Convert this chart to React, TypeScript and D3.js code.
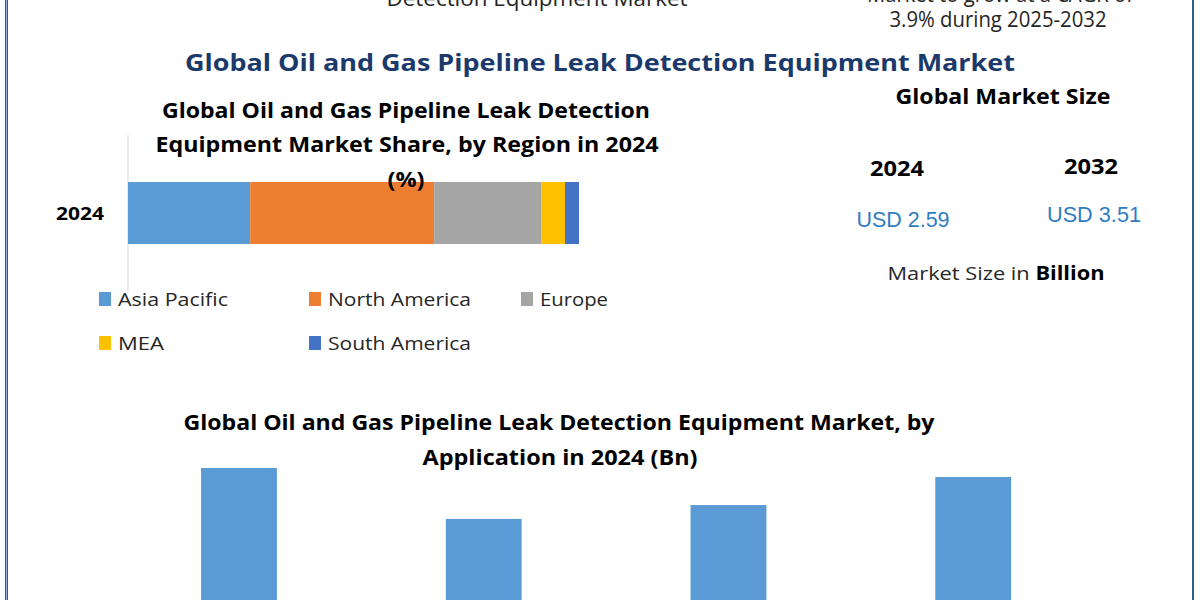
import React from "react";
import * as d3 from "d3";

// ---------- data ----------
const regions = ["Asia Pacific", "North America", "Europe", "MEA", "South America"];
const regionShares = [27.1, 40.8, 23.7, 5.3, 3.1];
const regionColors = ["#5B9BD5", "#ED7D31", "#A5A5A5", "#FFC000", "#4472C4"];
const shareYears = ["2024"];

const applications = ["Application A", "Application B", "Application C", "Application D"];
const applicationValues = [0.747, 0.538, 0.595, 0.71];

const marketYears = ["2024", "2032"];
const marketValues = [2.59, 3.51];
const cagrText = "3.9% during 2025-2032";

const FONT = "'Open Sans', 'DejaVu Sans', sans-serif";

type TProps = {
  x: number;
  y: number;
  size: number;
  w?: number;
  bold?: boolean;
  fill?: string;
  anchor?: "start" | "middle" | "end";
  family?: string;
  children: React.ReactNode;
};

function T({ x, y, size, w, bold, fill = "#000", anchor = "middle", family = FONT, children }: TProps) {
  return (
    <text
      x={x}
      y={y}
      fontSize={size}
      fontFamily={family}
      fontWeight={bold ? 700 : 400}
      fill={fill}
      textAnchor={anchor}
      textLength={w}
      lengthAdjust={w ? "spacingAndGlyphs" : undefined}
    >
      {children}
    </text>
  );
}

export default function App() {
  const W = 1200;
  const H = 600;

  // stacked share bar
  const xShare = d3.scaleLinear().domain([0, 100]).range([128, 579]);
  const yShare = d3.scaleBand<string>().domain(shareYears).range([135, 291]).paddingInner(0.431).paddingOuter(0.431);
  const stackData = [Object.fromEntries(regions.map((r, i) => [r, regionShares[i]]))];
  const stacked = d3.stack<any>().keys(regions)(stackData as any);

  // application bars
  const xApp = d3.scaleBand<string>().domain(applications).range([116.6, 1095.6]).paddingInner(0.69).paddingOuter(0.345);
  const yApp = d3.scaleLinear().domain([0, 1]).range([650, 650 - 243.6]);

  const legendCols = [99, 309, 521];
  const legendRows = [292, 336];
  const legendWidths = [110, 143, 68, 46, 143];

  return (
    <svg
      width={W}
      height={H}
      viewBox={`0 0 ${W} ${H}`}
      style={{ position: "absolute", left: 0, top: 0, display: "block", background: "#fff" }}
    >
      <rect x={0} y={0} width={W} height={H} fill="#fff" />
      {/* borders */}
      <rect x={5} y={0} width={3} height={H} fill="#2F5D8C" />
      <rect x={6} y={0} width={1} height={H} fill="#8FB0D3" />
      <rect x={1192} y={0} width={2} height={H} fill="#2F5D8C" />

      {/* axis line */}
      <line x1={xShare(0)} x2={xShare(0)} y1={135} y2={292} stroke="#D9D9D9" strokeWidth={1} />

      {/* stacked bar */}
      {stacked.map((layer, i) =>
        layer.map((d, j) => (
          <rect
            key={`${i}-${j}`}
            x={xShare(d[0])}
            y={yShare(shareYears[j])!}
            width={xShare(d[1]) - xShare(d[0])}
            height={yShare.bandwidth()}
            fill={regionColors[i]}
          />
        ))
      )}
      {shareYears.map((yr) => (
        <T key={yr} x={80} y={(yShare(yr)! + yShare.bandwidth() / 2) + 7} size={18} w={48} bold>
          {yr}
        </T>
      ))}

      {/* cut-off header texts */}
      <T x={537} y={6} size={21} w={301} fill="#262626">Detection Equipment Market</T>
      <T x={1000} y={2} size={21} w={266} fill="#262626">Market to grow at a CAGR of</T>
      <T x={998} y={27} size={21} w={217} fill="#262626">{cagrText}</T>

      {/* main title */}
      <T x={600} y={71} size={24} w={830} bold fill="#1B3A6B">
        Global Oil and Gas Pipeline Leak Detection Equipment Market
      </T>

      {/* share chart title (drawn over the bar) */}
      <T x={406} y={118} size={21} w={488} bold>Global Oil and Gas Pipeline Leak Detection</T>
      <T x={407} y={152} size={21} w={503} bold>Equipment Market Share, by Region in 2024</T>
      <T x={406} y={187} size={21} w={37} bold>(%)</T>

      {/* legend */}
      {regions.map((r, i) => {
        const cx = legendCols[i % 3];
        const cy = legendRows[Math.floor(i / 3)];
        return (
          <g key={r}>
            <rect x={cx} y={cy} width={12} height={14} fill={regionColors[i]} />
            <T x={cx + 19} y={cy + 14} size={19} w={legendWidths[i]} anchor="start" fill="#262626">
              {r}
            </T>
          </g>
        );
      })}

      {/* market size panel */}
      <T x={1003} y={104} size={21} w={215} bold>Global Market Size</T>
      <T x={897} y={176} size={22} w={54} bold>{marketYears[0]}</T>
      <T x={1091} y={174} size={22} w={54} bold>{marketYears[1]}</T>
      <T x={903} y={227} size={22} w={93} fill="#2F7DC1" family="'Liberation Sans', Arial, sans-serif">{`USD ${marketValues[0].toFixed(2)}`}</T>
      <T x={1094} y={222} size={22} w={94} fill="#2F7DC1" family="'Liberation Sans', Arial, sans-serif">{`USD ${marketValues[1].toFixed(2)}`}</T>
      <text x={996} y={280} fontSize={19} fontFamily={FONT} textAnchor="middle" fill="#262626" textLength={217} lengthAdjust="spacingAndGlyphs">
        Market Size in <tspan fontWeight={700} fill="#000">Billion</tspan>
      </text>

      {/* application chart title */}
      <T x={559} y={430} size={21} w={751} bold>Global Oil and Gas Pipeline Leak Detection Equipment Market, by</T>
      <T x={560} y={465} size={21} w={275} bold>Application in 2024 (Bn)</T>

      {/* application bars */}
      {applications.map((a, i) => (
        <rect
          key={a}
          x={xApp(a)!}
          y={yApp(applicationValues[i])}
          width={xApp.bandwidth()}
          height={yApp(0) - yApp(applicationValues[i])}
          fill="#5B9BD5"
        />
      ))}
    </svg>
  );
}
